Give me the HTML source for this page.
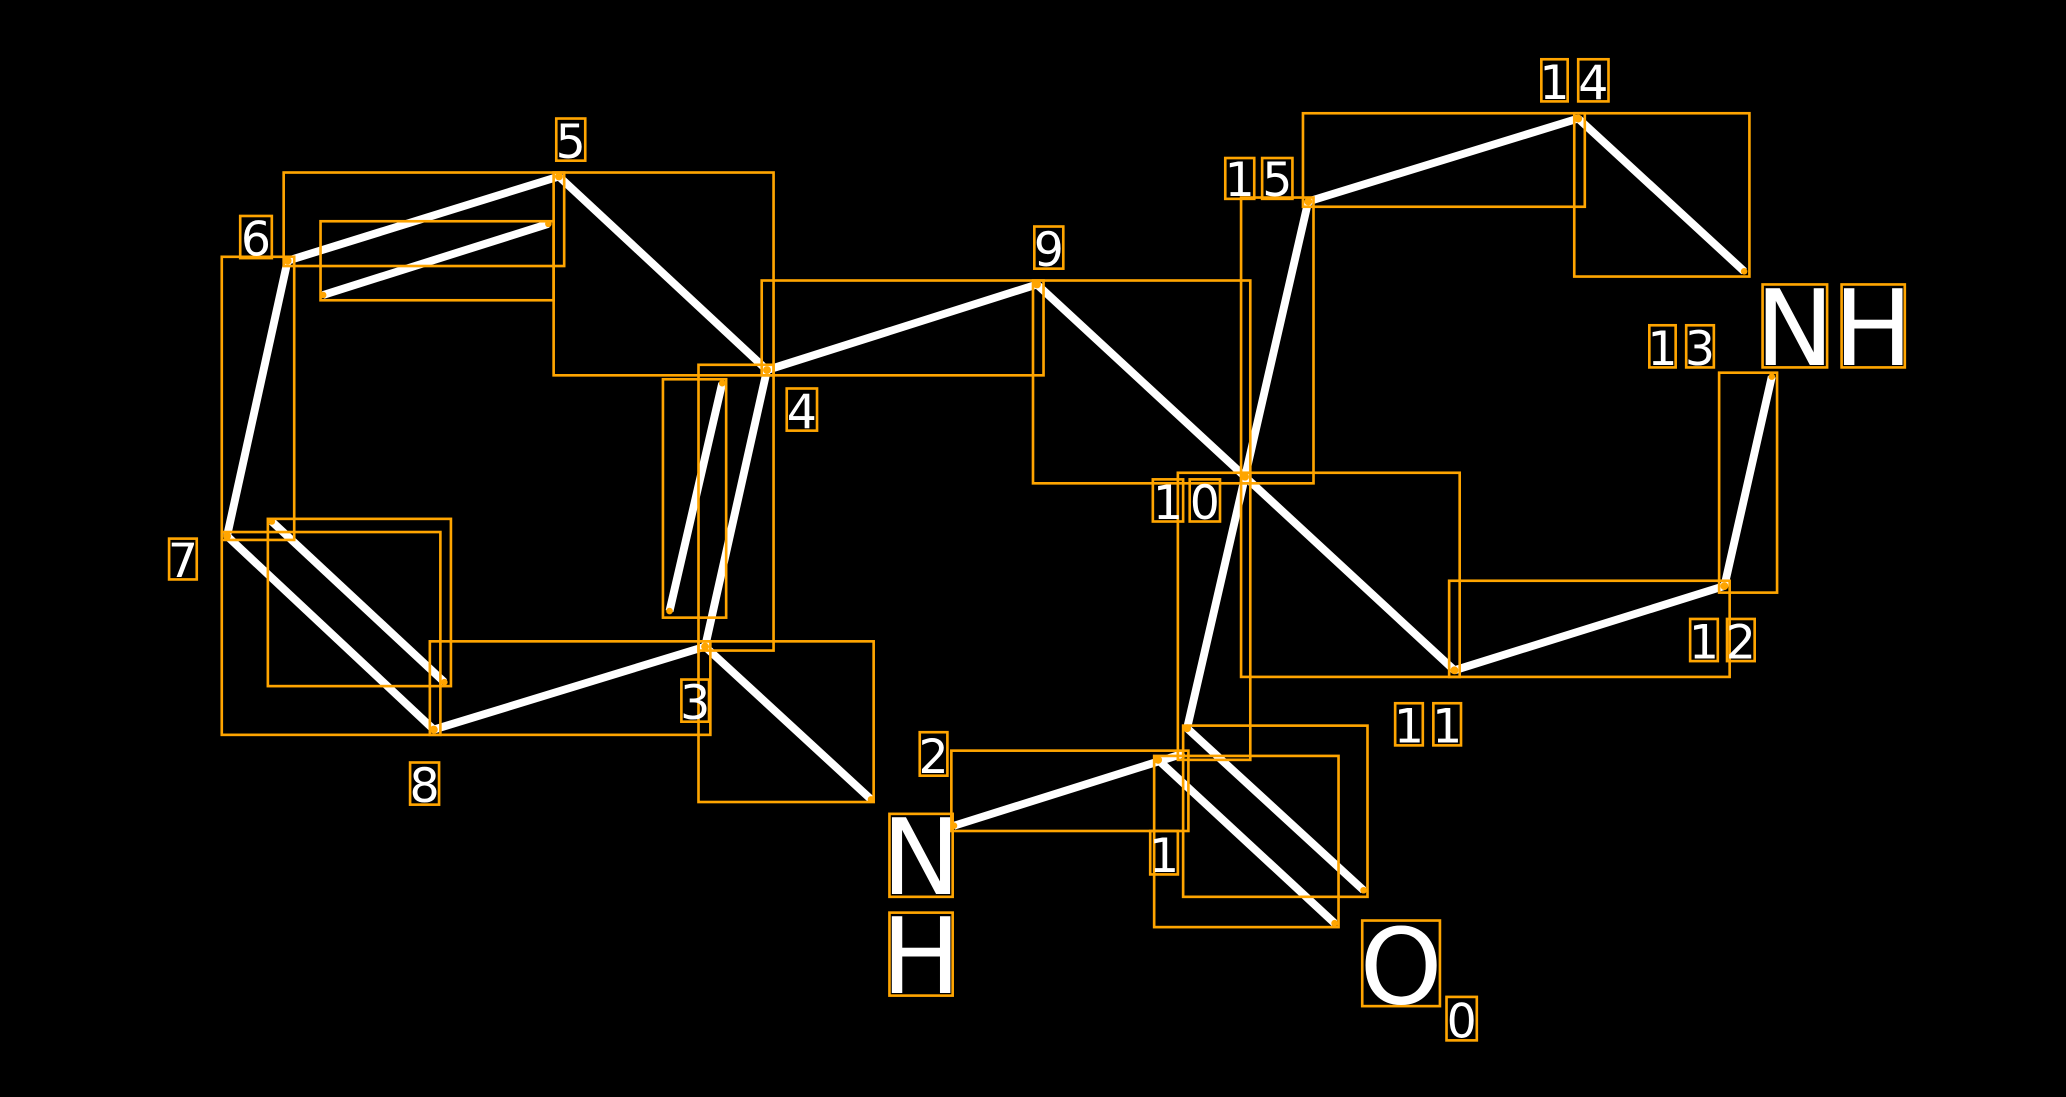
<!DOCTYPE html>
<html><head><meta charset="utf-8"><style>html,body{margin:0;padding:0;background:#000}svg{display:block}</style></head>
<body>
<svg width="2066" height="1097" viewBox="0 0 1568 833" xmlns="http://www.w3.org/2000/svg" font-family="DejaVu Sans, Liberation Sans, sans-serif">
<rect width="1568" height="833" fill="#000"/>
<g stroke="#fff" stroke-width="6" stroke-linecap="butt">
<line x1="218" y1="198" x2="424" y2="134"/>
<line x1="245" y1="224" x2="416" y2="170"/>
<line x1="424" y1="134" x2="582" y2="281"/>
<line x1="218" y1="198" x2="172" y2="407"/>
<line x1="172" y1="407" x2="329" y2="554"/>
<line x1="206" y1="396" x2="337" y2="518"/>
<line x1="329" y1="554" x2="535" y2="491"/>
<line x1="535" y1="491" x2="582" y2="281"/>
<line x1="508" y1="464" x2="548" y2="291"/>
<line x1="535" y1="491" x2="661" y2="607"/>
<line x1="582" y1="281" x2="787" y2="216"/>
<line x1="787" y1="216" x2="945" y2="362"/>
<line x1="945" y1="362" x2="993" y2="153"/>
<line x1="993" y1="153" x2="1198" y2="90"/>
<line x1="1198" y1="90" x2="1324" y2="206"/>
<line x1="945" y1="362" x2="1104" y2="509"/>
<line x1="1104" y1="509" x2="1309" y2="445"/>
<line x1="1309" y1="445" x2="1345" y2="286"/>
<line x1="945" y1="362" x2="901" y2="553"/>
<line x1="901" y1="553" x2="1035" y2="676"/>
<line x1="879" y1="577" x2="1013" y2="701"/>
<line x1="724" y1="627" x2="899" y2="572"/>
</g>
<g fill="none" stroke="#FFA500" stroke-width="2">
<rect x="215" y="131" width="213" height="71"/>
<rect x="420" y="131" width="167" height="154"/>
<rect x="243" y="168" width="177" height="60"/>
<rect x="168" y="195" width="55" height="215"/>
<rect x="168" y="404" width="166" height="154"/>
<rect x="203" y="394" width="139" height="127"/>
<rect x="326" y="487" width="213" height="71"/>
<rect x="530" y="277" width="57" height="217"/>
<rect x="503" y="288" width="48" height="181"/>
<rect x="530" y="487" width="133" height="122"/>
<rect x="578" y="213" width="214" height="72"/>
<rect x="784" y="213" width="165" height="154"/>
<rect x="942" y="150" width="55" height="217"/>
<rect x="989" y="86" width="214" height="71"/>
<rect x="1195" y="86" width="133" height="124"/>
<rect x="942" y="359" width="166" height="155"/>
<rect x="1100" y="441" width="213" height="73"/>
<rect x="1305" y="283" width="44" height="167"/>
<rect x="894" y="359" width="55" height="218"/>
<rect x="898" y="551" width="140" height="130"/>
<rect x="876" y="574" width="140" height="130"/>
<rect x="722" y="570" width="180" height="61"/>
<rect x="675" y="618" width="48" height="63"/>
<rect x="675" y="693" width="48" height="63"/>
<rect x="1034" y="699" width="59" height="65"/>
<rect x="1338" y="216" width="49" height="63"/>
<rect x="1398" y="216" width="48" height="63"/>
<rect x="422" y="90" width="22" height="32"/>
<rect x="182" y="164" width="24" height="32"/>
<rect x="128" y="409" width="21" height="31"/>
<rect x="311" y="579" width="22" height="32"/>
<rect x="517" y="516" width="21" height="32"/>
<rect x="597" y="295" width="23" height="32"/>
<rect x="698" y="556" width="21" height="33"/>
<rect x="873" y="631" width="21" height="33"/>
<rect x="1098" y="757" width="23" height="33"/>
<rect x="785" y="172" width="22" height="32"/>
<rect x="875" y="364" width="23" height="32"/><rect x="903" y="364" width="23" height="32"/>
<rect x="930" y="120" width="22" height="31"/><rect x="958" y="120" width="23" height="31"/>
<rect x="1170" y="45" width="20" height="32"/><rect x="1198" y="45" width="23" height="32"/>
<rect x="1252" y="247" width="20" height="32"/><rect x="1280" y="247" width="21" height="32"/>
<rect x="1283" y="470" width="21" height="32"/><rect x="1311" y="470" width="21" height="32"/>
<rect x="1059" y="534" width="21" height="32"/><rect x="1088" y="534" width="21" height="32"/>
</g>
<g fill="#FFA500">
<circle cx="218" cy="198" r="3"/><circle cx="424" cy="134" r="3"/><circle cx="582" cy="281" r="3"/>
<circle cx="245" cy="224" r="2.5"/><circle cx="416" cy="170" r="2.5"/><circle cx="172" cy="407" r="3"/>
<circle cx="329" cy="554" r="3"/><circle cx="206" cy="396" r="2.5"/><circle cx="337" cy="518" r="2.5"/>
<circle cx="535" cy="491" r="3"/><circle cx="508" cy="464" r="2.5"/><circle cx="548" cy="291" r="2.5"/>
<circle cx="661" cy="607" r="2.5"/><circle cx="787" cy="216" r="3"/><circle cx="945" cy="362" r="3"/>
<circle cx="993" cy="153" r="3"/><circle cx="1198" cy="90" r="3"/><circle cx="1324" cy="206" r="2.5"/>
<circle cx="1104" cy="509" r="3"/><circle cx="1309" cy="445" r="3"/><circle cx="1345" cy="286" r="2.5"/>
<circle cx="901" cy="553" r="3"/><circle cx="1035" cy="676" r="2.5"/><circle cx="879" cy="577" r="3"/>
<circle cx="1013" cy="701" r="2.5"/><circle cx="724" cy="627" r="2.5"/>
</g>
<g fill="#fff" text-anchor="middle" font-size="36">
<text x="433" y="120">5</text><text x="194" y="194">6</text><text x="138.5" y="438">7</text>
<text x="322" y="609">8</text><text x="527.5" y="546">3</text><text x="608.5" y="325">4</text>
<text x="708.5" y="587">2</text><text x="883.5" y="662">1</text><text x="1109.5" y="788">0</text>
<text x="796" y="202">9</text>
<text x="886.5" y="394">1</text><text x="914.5" y="394">0</text>
<text x="941" y="149">1</text><text x="969.5" y="149">5</text>
<text x="1180" y="75">1</text><text x="1209.5" y="75">4</text>
<text x="1262" y="277">1</text><text x="1290.5" y="277">3</text>
<text x="1293.5" y="500">1</text><text x="1321.5" y="500">2</text>
<text x="1069.5" y="564">1</text><text x="1098.5" y="564">1</text>
</g>
<g fill="#fff" text-anchor="middle" font-size="80">
<text x="699" y="679">N</text><text x="699" y="754">H</text>
<text x="1063.5" y="762">O</text>
<text x="1362.5" y="277">N</text><text x="1422" y="277">H</text>
</g>
</svg>
</body></html>
